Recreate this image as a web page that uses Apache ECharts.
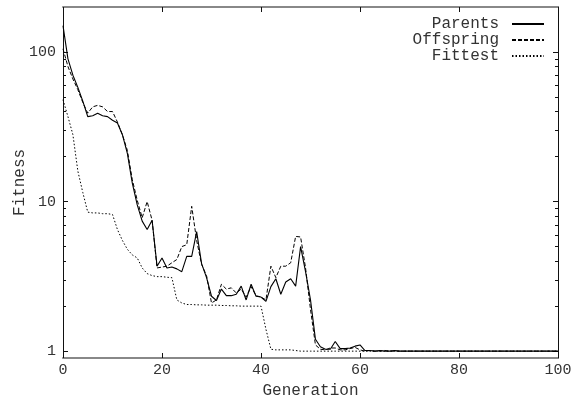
<!DOCTYPE html>
<html><head><meta charset="utf-8">
<script src="https://cdn.jsdelivr.net/npm/echarts@6/dist/echarts.min.js"></script>
<style>html,body{margin:0;padding:0;background:#fff}#c{width:588px;height:399px}</style>
</head><body><div id="c"></div>
<script>
const seriesNames = ['Parents', 'Offspring', 'Fittest'];
const parents = [150,90,70,58,47,37,37.5,39,37.5,37,35,33.5,28,21,13.3,9.5,7.4,6.5,7.5,3.7,
  4.2,3.6,3.65,3.55,3.4,4.3,4.3,6.3,3.85,3.1,2.33,2.18,2.6,2.35,2.35,2.4,2.72,2.2,2.8,2.33,
  2.3,2.15,2.7,3.05,2.4,2.9,3.05,2.72,5.0,3.4,2.2,1.2,1.07,1.03,1.03,1.16,1.04,1.04,1.05,1.08,
  1.1,1.01,1.01,1.0,1.01,1.0,1.0,1.01,1,1,1,1,1,1,1,1,1,1,1,1,
  1,1,1,1,1,1,1,1,1,1,1,1,1,1,1,1,1,1,1,1,1];
const offspring = [105,80,66,56,46,39,43,44,43,40,40,34,28,22,14,10.2,7.8,10,7.5,3.6,
  3.65,3.7,3.9,4.1,5.0,5.15,9.3,5.5,3.8,3.2,2.1,2.2,2.8,2.6,2.65,2.45,2.6,2.3,2.7,2.35,
  2.3,2.2,3.7,3.1,3.7,3.7,3.9,5.85,5.8,3.6,1.9,1.1,1.03,1.02,1.05,1.05,1.02,1.02,1.04,1.06,
  1.02,1.0,1.01,1.0,1.0,1.01,1,1,1,1,1,1,1,1,1,1,1,1,1,1,
  1,1,1,1,1,1,1,1,1,1,1,1,1,1,1,1,1,1,1,1,1];
const fittest = [48,37,28,16,11.5,8.5,8.4,8.4,8.3,8.3,8.2,6.5,5.5,4.8,4.4,4.2,3.6,3.3,3.2,3.15,
  3.15,3.12,3.1,2.2,2.1,2.05,2.05,2.04,2.04,2.03,2.03,2.03,2.02,2.02,2.01,2.01,2.0,2.0,2.0,2.0,
  2.0,1.4,1.03,1.02,1.02,1.02,1.02,1.01,1,1,1,1,1,1,1,1,1,1,1,1,
  1,1,1,1,1,1,1,1,1,1,1,1,1,1,1,1,1,1,1,1,
  1,1,1,1,1,1,1,1,1,1,1,1,1,1,1,1,1,1,1,1,1];
const yMajorTicks = [1, 10, 100];
const yMinorTicks = [2,3,4,5,6,7,8,9,20,30,40,50,60,70,80,90];

const FONT = "'Liberation Mono', 'DejaVu Sans Mono', monospace";
const toPairs = arr => arr.map((v, i) => [i, v]);

function xAx(pos, labels) {
  return {
    type: 'value', min: 0, max: 100, interval: 20, position: pos,
    name: labels ? 'Generation' : '', nameLocation: 'middle', nameGap: 22,
    nameTextStyle: { fontFamily: FONT, fontSize: 16, color: '#333' },
    axisLine: { show: true, lineStyle: { color: '#888', width: 2 } },
    axisTick: { show: true, inside: true, length: 5, lineStyle: { color: '#111', width: 1 } },
    axisLabel: { show: labels, margin: 5, fontFamily: FONT, fontSize: 15, color: '#333' },
    splitLine: { show: false }
  };
}
function yAx(pos, ticks, len, labels) {
  return {
    type: 'log', logBase: 10, min: 0.9, max: 200, position: pos,
    name: labels ? 'Fitness' : '', nameLocation: 'middle', nameGap: 35, nameMoveOverlap: false,
    nameTextStyle: { fontFamily: FONT, fontSize: 16, color: '#333' },
    axisLine: { show: true, lineStyle: { color: '#111', width: 1 } },
    axisTick: { show: true, inside: true, length: len, customValues: ticks, lineStyle: { color: '#111', width: 1 } },
    axisLabel: { show: labels, customValues: yMajorTicks, margin: 7, fontFamily: FONT, fontSize: 15, color: '#333' },
    splitLine: { show: false }, minorTick: { show: false }
  };
}

const chart = echarts.init(document.getElementById('c'), null, { renderer: 'canvas' });
chart.setOption({
  animation: false,
  backgroundColor: '#fff',
  grid: { left: 63, right: 30, top: 7, bottom: 41, outerBoundsMode: 'none', containLabel: false },
  xAxis: [xAx('bottom', true), xAx('top', false)],
  yAxis: [yAx('left', yMajorTicks, 5, true), yAx('left', yMinorTicks, 3, false),
          yAx('right', yMajorTicks, 5, false), yAx('right', yMinorTicks, 3, false)],
  legend: {
    data: seriesNames, orient: 'vertical', align: 'right', right: 38, top: 11,
    itemWidth: 32, itemHeight: 16, itemGap: 0,
    itemStyle: { opacity: 0 },
    textStyle: { fontFamily: FONT, fontSize: 16, color: '#333', padding: [0, 8, 0, 0] }
  },
  series: [
    { name: seriesNames[0], type: 'line', data: toPairs(parents), symbol: 'none', showSymbol: false,
      lineStyle: { color: '#000', width: 1.1, type: 'solid' }, itemStyle: { color: '#000' } },
    { name: seriesNames[1], type: 'line', data: toPairs(offspring), symbol: 'none', showSymbol: false,
      lineStyle: { color: '#000', width: 1, type: [4, 2] }, itemStyle: { color: '#000' } },
    { name: seriesNames[2], type: 'line', data: toPairs(fittest), symbol: 'none', showSymbol: false,
      lineStyle: { color: '#000', width: 1, type: [1.5, 2] }, itemStyle: { color: '#000' } }
  ]
});
</script>
</body></html>
